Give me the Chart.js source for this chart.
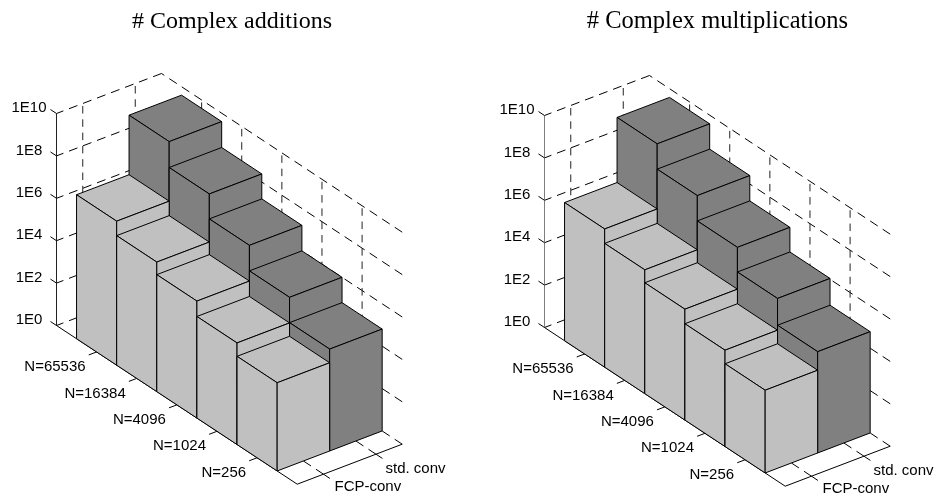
<!DOCTYPE html>
<html>
<head>
<meta charset="utf-8">
<title># Complex additions / multiplications</title>
<script src="https://cdn.jsdelivr.net/npm/chart.js@4"></script>
<style>
 html,body{margin:0;padding:0;background:#fff;}
 canvas{position:absolute;top:0;}
 #addChart{left:0;}
 #mulChart{left:488px;}
</style>
</head>
<body>
<canvas id="addChart" width="488" height="498"></canvas>
<canvas id="mulChart" width="449" height="498"></canvas>
<script>
// Categories and tick labels
var sizeLabels = ["N=65536","N=16384","N=4096","N=1024","N=256"];
var methodLabels = ["FCP-conv","std. conv"];
var powerTicks = [0,2,4,6,8,10];
var powerLabels = ["1E0","1E2","1E4","1E6","1E8","1E10"];

// Values
var addFcp = [6.2e6,1.29e6,3.3e5,6.2e4,1.45e4];
var addStd = [4.0e9,2.4e8,1.6e7,1.0e6,6.4e4];
var mulFcp = [3.3e6,6.9e5,1.7e5,3.5e4,8.0e3];
var mulStd = [3.9e9,2.5e8,1.6e7,1.1e6,6.0e4];

// Oblique projection of the 3D box onto the flat x/y scales
var origin = {x:56.5,y:325.5};
var stepN = {x:40.12,y:26.45};
var stepM = {x:52.5,y:-20};
var stepZ = 21.2;

function project(n,m,z,dy){
 return {
  x: origin.x + n*stepN.x + m*stepM.x,
  y: origin.y + dy + n*stepN.y + m*stepM.y - z*stepZ
 };
}

var solid = [3000,1];
var gridDash = [9,6];
var wallDash = [7.5,5.8];

function strokeLine(pts,color,dash,offset){
 return {
  data:pts,
  showLine:true,
  fill:false,
  borderColor:color,
  borderWidth:1,
  borderDash:dash,
  borderDashOffset:offset||0,
  pointRadius:0,
  clip:false
 };
}

function face(pts,color){
 return {
  data:pts.concat([pts[0]]),
  showLine:true,
  fill:'shape',
  backgroundColor:color,
  borderColor:"#000",
  borderWidth:1,
  borderDash:solid,
  borderJoinStyle:'miter',
  pointRadius:0,
  clip:false
 };
}

function box(n,m,value,color,dy){
 var h = Math.log10(value);
 var n0=n+0.5, n1=n+1.5, m0=m, m1=m+1;
 return [
  face([project(n0,m0,h,dy),project(n1,m0,h,dy),project(n1,m1,h,dy),project(n0,m1,h,dy)],color),
  face([project(n0,m0,0,dy),project(n1,m0,0,dy),project(n1,m0,h,dy),project(n0,m0,h,dy)],color),
  face([project(n1,m0,0,dy),project(n1,m1,0,dy),project(n1,m1,h,dy),project(n1,m0,h,dy)],color)
 ];
}

function buildPanel(id,title,titleX,titleFont,fcp,std,dy,axisColor){
 var sets = [];
 var nMax = sizeLabels.length+1;
 var mMax = methodLabels.length;

 // wall grid, drawn first so the bars cover it
 powerTicks.forEach(function(p){
  sets.push(strokeLine([project(nMax,mMax,p,dy),project(0,mMax,p,dy)],"#000",gridDash));
  sets.push(strokeLine([project(0,mMax,p,dy),project(0,0,p,dy)],"#000",gridDash));
 });
 sizeLabels.forEach(function(l,i){
  sets.push(strokeLine([project(i+1,mMax,10,dy),project(i+1,mMax,0,dy)],"#222",wallDash,-2.5));
 });
 methodLabels.forEach(function(l,j){
  sets.push(strokeLine([project(0,j+0.5,10,dy),project(0,j+0.5,0,dy)],"#222",wallDash,-2.5));
  sets.push(strokeLine([project(nMax,j+0.5,0,dy),project(0,j+0.5,0,dy)],"#000",gridDash));
 });
 // floor lines at the back of the N axis ticks
 sizeLabels.forEach(function(l,i){
  sets.push(strokeLine([project(i+1,0,0,dy),project(i+1,mMax,0,dy)],"#000",gridDash));
 });

 // axes
 sets.push(strokeLine([project(0,0,0,dy),project(0,0,10,dy)],axisColor,solid));
 sets.push(strokeLine([project(0,0,0,dy),project(nMax,0,0,dy)],"#000",solid));
 sets.push(strokeLine([project(nMax,0,0,dy),project(nMax,mMax,0,dy)],"#000",solid));

 // ticks
 powerTicks.forEach(function(p){
  sets.push(strokeLine([project(0,0,p,dy),project(-0.15,0,p,dy)],"#000",solid));
 });
 sizeLabels.forEach(function(l,i){
  sets.push(strokeLine([project(i+1,0,0,dy),project(i+1,-0.15,0,dy)],"#000",solid));
 });
 methodLabels.forEach(function(l,j){
  sets.push(strokeLine([project(nMax,j+0.5,0,dy),project(nMax+0.16,j+0.5,0,dy)],"#000",solid));
 });

 // bars, back to front
 std.forEach(function(v,i){ sets = sets.concat(box(i,1,v,"#808080",dy)); });
 fcp.forEach(function(v,i){ sets = sets.concat(box(i,0,v,"#c0c0c0",dy)); });

 // chart.js paints the first dataset last
 sets.reverse();

 var labelPlugin = {
  id:'panelLabels',
  afterDatasetsDraw:function(chart){
   var c = chart.ctx, sx = chart.scales.x, sy = chart.scales.y;
   function put(text,pt,ox,oy,align){
    c.textAlign = align;
    c.fillText(text,sx.getPixelForValue(pt.x)+ox,sy.getPixelForValue(pt.y)+oy);
   }
   c.save();
   c.fillStyle = "#000";
   c.textBaseline = 'middle';
   c.font = "15px 'Liberation Sans'";
   powerTicks.forEach(function(p,k){ put(powerLabels[k],project(0,0,p,dy),-27.5,-5.5,'center'); });
   sizeLabels.forEach(function(l,i){ put(l,project(i+1,0,0,dy),-11,15,'right'); });
   put(methodLabels[0],project(nMax,0.5,0,dy),11,13,'left');
   put(methodLabels[1],project(nMax,1.5,0,dy),9.5,15,'left');
   c.font = titleFont;
   c.textAlign = 'center';
   c.textBaseline = 'alphabetic';
   c.fillText(title,titleX,28);
   c.restore();
  }
 };

 var canvas = document.getElementById(id);
 return new Chart(canvas,{
  type:'scatter',
  data:{datasets:sets},
  options:{
   responsive:false,
   animation:false,
   layout:{padding:0},
   plugins:{legend:{display:false},title:{display:false},tooltip:{enabled:false}},
   scales:{
    x:{type:'linear',display:false,min:0,max:canvas.width},
    y:{type:'linear',display:false,min:0,max:canvas.height,reverse:true}
   }
  },
  plugins:[labelPlugin]
 });
}

buildPanel('addChart',"# Complex additions",232,"24px 'Liberation Serif'",addFcp,addStd,0,"#222");
buildPanel('mulChart',"# Complex multiplications",229.5,"24.5px 'Liberation Serif'",mulFcp,mulStd,2,"#7f7f7f");
</script>
</body>
</html>
